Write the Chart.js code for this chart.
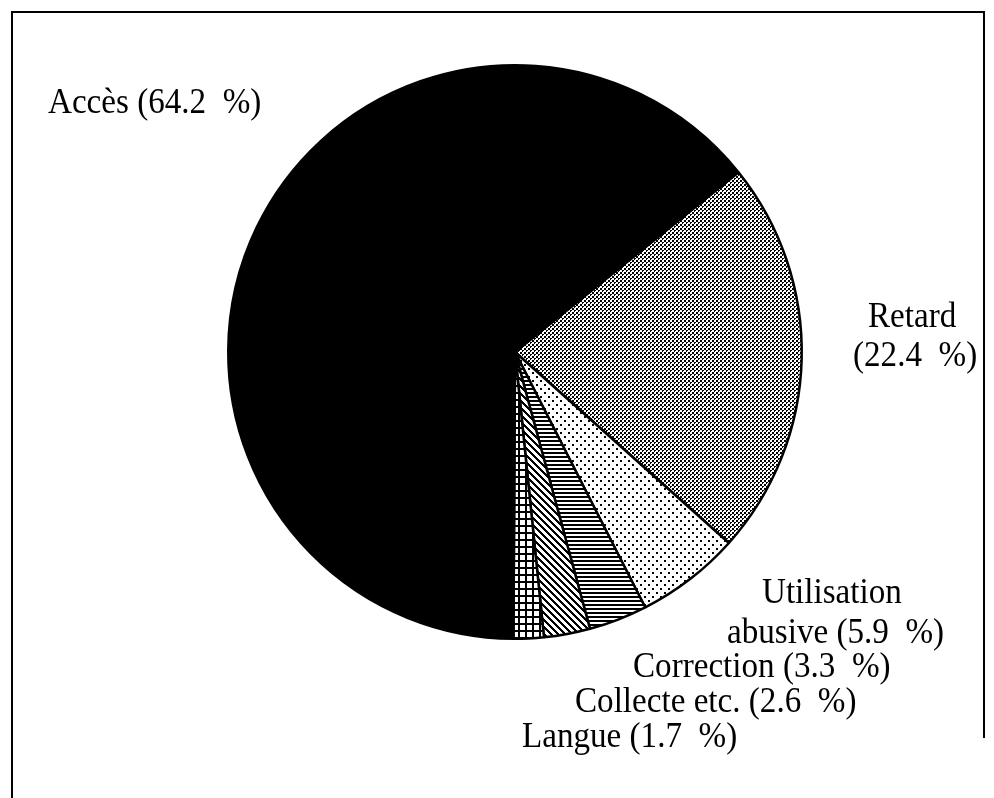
<!DOCTYPE html>
<html>
<head>
<meta charset="utf-8">
<script src="https://cdn.jsdelivr.net/npm/chart.js@4/dist/chart.umd.min.js"></script>
<style>
  html, body { margin: 0; padding: 0; background: #fff; }
  #wrap { width: 994px; height: 798px; position: relative; }
</style>
</head>
<body>
<div id="wrap"><canvas id="pie"></canvas></div>
<script>
// ---- data (clockwise from the Accès / Retard boundary) ----
const categories = ['Retard', 'Utilisation abusive', 'Correction', 'Collecte etc.', 'Langue', 'Accès'];
const shares = [22.4, 5.9, 3.3, 2.6, 1.7, 64.2];
const labelLines = [
  ['Retard', '(22.4\u2002%)'],
  ['Utilisation', 'abusive (5.9\u2002%)'],
  ['Correction (3.3\u2002%)'],
  ['Collecte etc. (2.6\u2002%)'],
  ['Langue (1.7\u2002%)'],
  ['Accès (64.2\u2002%)']
];

// label placement: left x and middle y for each line
const labelPos = [
  [[868, 318], [853, 357]],
  [[762, 594], [727, 634]],
  [[633, 668]],
  [[575, 703]],
  [[522, 738]],
  [[48, 104]]
];

// build a repeating black/white fill from a pixel rule
function makePattern(w, h, isInk) {
  const c = document.createElement('canvas');
  c.width = w; c.height = h;
  const x = c.getContext('2d');
  const img = x.createImageData(w, h);
  for (let j = 0; j < h; j++) {
    for (let i = 0; i < w; i++) {
      const v = isInk(i, j) ? 0 : 255;
      const k = (j * w + i) * 4;
      img.data[k] = img.data[k + 1] = img.data[k + 2] = v;
      img.data[k + 3] = 255;
    }
  }
  x.putImageData(img, 0, 0);
  return x.createPattern(c, 'repeat');
}

const fills = [
  // fine grey dots
  makePattern(4, 4, (i, j) => (i + j < 3 && i < 2 && j < 2) || (i >= 2 && j >= 2 && i + j < 7 && (i < 4 && j < 4) && !(i === 3 && j === 3))),
  makePattern(8, 8, (i, j) => (i < 2 && j < 2) || (i >= 4 && i < 6 && j >= 4 && j < 6)), // sparse dots
  makePattern(4, 4, (i, j) => j < 2),                                               // horizontal lines
  makePattern(7, 7, (i, j) => ((i - j + 70) % 7) < 3),                              // diagonal hatch
  makePattern(7, 7, (i, j) => i % 7 < 2 || j % 7 < 2),                              // grid
  '#000'                                                                            // solid
];

const framePlugin = {
  id: 'frame',
  beforeDraw(chart) {
    const c = chart.ctx;
    c.save();
    c.fillStyle = '#fff';
    c.fillRect(0, 0, chart.width, chart.height);
    c.restore();
  },
  afterDraw(chart) {
    const c = chart.ctx;
    c.save();
    c.strokeStyle = '#000';
    c.lineWidth = 2;
    c.beginPath();
    c.moveTo(12, 798);
    c.lineTo(12, 12);
    c.lineTo(984, 12);
    c.lineTo(984, 738);
    c.stroke();

    c.fillStyle = '#000';
    c.font = '36px "Liberation Serif", "Times New Roman", serif';
    c.textAlign = 'left';
    c.textBaseline = 'middle';
    labelLines.forEach((lines, i) => {
      lines.forEach((t, k) => {
        const p = labelPos[i][k];
        c.save();
        c.translate(p[0], p[1]);
        c.scale(0.92, 1);   // scanned type is a little narrower
        c.fillText(t, 0, 0);
        c.restore();
      });
    });
    c.restore();
  }
};

new Chart(document.getElementById('pie'), {
  type: 'pie',
  data: {
    labels: categories,
    datasets: [{
      data: shares,
      backgroundColor: fills,
      borderColor: '#000',
      borderWidth: 2.5
    }]
  },
  options: {
    responsive: true,
    maintainAspectRatio: false,
    animation: false,
    rotation: 51.2,
    layout: { padding: { left: 227, right: 191, top: 64, bottom: 158 } },
    plugins: {
      legend: { display: false },
      tooltip: { enabled: false }
    }
  },
  plugins: [framePlugin]
});
</script>
</body>
</html>
